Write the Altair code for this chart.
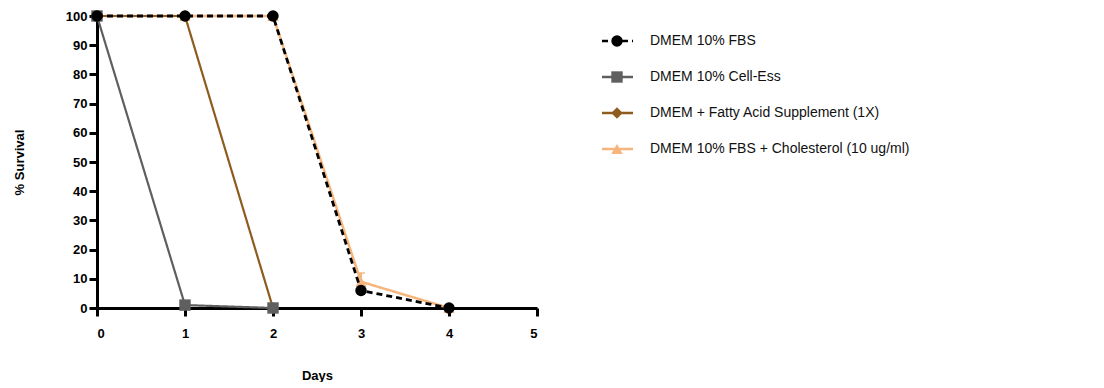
import altair as alt
import pandas as pd

# ---- data ----
days = [0, 1, 2, 3, 4]
series = [
    "DMEM 10% FBS",
    "DMEM 10% Cell-Ess",
    "DMEM + Fatty Acid Supplement (1X)",
    "DMEM 10% FBS + Cholesterol (10 ug/ml)",
]
fbs = [100, 100, 100, 6, 0]
cell_ess = [100, 1, 0]
fatty_acid = [100, 100, 0]
cholesterol = [100, 100, 100, 9, 0]
chol_err_day = [3]
chol_err_mean = [9]
chol_err_high = [12]

x_ticks = [0, 1, 2, 3, 4, 5]
y_ticks = [0, 10, 20, 30, 40, 50, 60, 70, 80, 90, 100]

colors = ["#000000", "#5f5f5f", "#8f5c1f", "#f5b57c"]
shapes = ["circle", "square", "diamond", "triangle-up"]
dashes = [[6, 4], [1, 0], [1, 0], [1, 0]]
widths = [2.8, 2.2, 2.2, 2.5]

records = []
for name, vals in zip(series, [fbs, cell_ess, fatty_acid, cholesterol]):
    for d, v in zip(days, vals):
        records.append({"series": name, "day": d, "value": v})
df = pd.DataFrame(records)
err_df = pd.DataFrame({"day": chol_err_day, "lo": chol_err_mean, "hi": chol_err_high})
leg_df = pd.DataFrame({"series": series})

FONT = "Liberation Sans"

x_scale = alt.Scale(domain=[0, 5], nice=False, zero=False)
y_scale = alt.Scale(domain=[0, 100], nice=False)
x_axis = alt.Axis(values=x_ticks, format="d", title="Days", labelPadding=11,
                  titlePadding=29, labelOverlap=False)
y_axis = alt.Axis(values=y_ticks, format="d", title="% Survival", labelPadding=2,
                  titlePadding=39, labelOverlap=False)

layers = []
# error bar for cholesterol (drawn first, under everything)
layers.append(
    alt.Chart(err_df).mark_rule(color=colors[3], strokeWidth=2).encode(
        x=alt.X("day:Q", scale=x_scale, axis=x_axis),
        y=alt.Y("lo:Q", scale=y_scale, axis=y_axis),
        y2="hi:Q",
    )
)
layers.append(
    alt.Chart(err_df).mark_tick(color=colors[3], orient="horizontal", size=8, thickness=2).encode(
        x=alt.X("day:Q", scale=x_scale, axis=x_axis),
        y=alt.Y("hi:Q", scale=y_scale, axis=y_axis),
    )
)
for i in [3, 2, 1, 0]:
    name = series[i]
    sub = alt.Chart(df).transform_filter(alt.datum.series == name)
    enc = dict(
        x=alt.X("day:Q", scale=x_scale, axis=x_axis),
        y=alt.Y("value:Q", scale=y_scale, axis=y_axis),
    )
    layers.append(
        sub.mark_line(color=colors[i], strokeDash=dashes[i], strokeWidth=widths[i]).encode(**enc)
    )
    layers.append(
        sub.mark_point(shape=shapes[i], filled=True, size=130, color=colors[i], opacity=1).encode(**enc)
    )

main = alt.layer(*layers).properties(width=440, height=292)

leg_y = alt.Y(
    "series:N",
    scale=alt.Scale(type="point", domain=series, range=[25, 133], padding=0),
    axis=None,
)
leg_color = alt.Color("series:N", scale=alt.Scale(domain=series, range=colors), legend=None)
leg_base = alt.Chart(leg_df)
leg_rule = leg_base.mark_rule(strokeWidth=2.5).encode(
    x=alt.value(42),
    x2=alt.value(73),
    y=leg_y,
    color=leg_color,
    strokeDash=alt.StrokeDash("series:N", scale=alt.Scale(domain=series, range=dashes), legend=None),
)
leg_pt = leg_base.mark_point(filled=True, size=130, opacity=1).encode(
    x=alt.value(57),
    y=leg_y,
    color=leg_color,
    shape=alt.Shape("series:N", scale=alt.Scale(domain=series, range=shapes), legend=None),
)
leg_txt = leg_base.mark_text(align="left", baseline="middle", font=FONT, fontSize=14, color="#111111").encode(
    x=alt.value(90), y=leg_y, text="series:N"
)
legend = alt.layer(leg_rule, leg_pt, leg_txt).properties(width=500, height=292)

chart = (
    alt.hconcat(main, legend, spacing=21)
    .resolve_scale(color="independent", y="independent", x="independent")
    .properties(padding={"left": 5, "top": 2, "right": 5, "bottom": 0})
    .configure_view(stroke=None)
    .configure_axis(
        grid=False,
        labelOverlap=False,
        domainColor="black",
        domainWidth=3,
        tickColor="black",
        tickWidth=3,
        tickSize=8,
        labelFont=FONT,
        labelFontWeight="bold",
        labelFontSize=13,
        labelColor="black",
        titleFont=FONT,
        titleFontWeight="bold",
        titleFontSize=13,
        titleColor="black",
    )
)

chart.save("out.html", embed_options={"renderer": "svg", "actions": False})
